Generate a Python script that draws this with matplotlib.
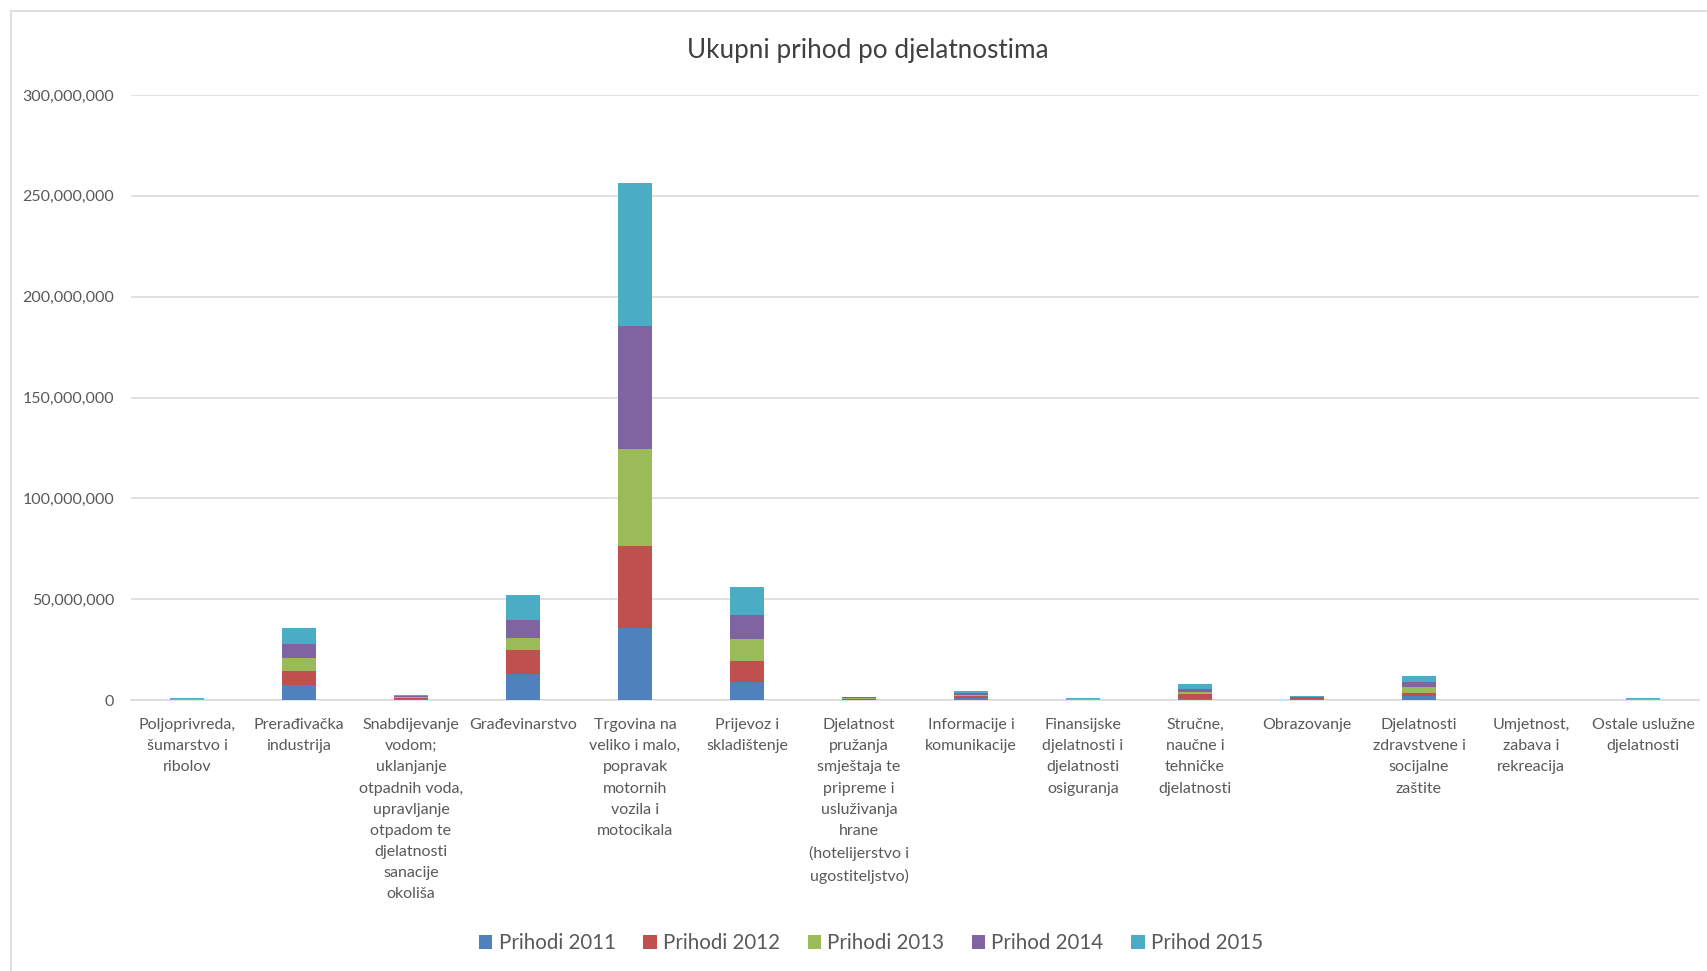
import matplotlib
matplotlib.use("Agg")
from matplotlib import pyplot as plt
from matplotlib.patches import Rectangle
from matplotlib.ticker import FuncFormatter
import numpy as np

plt.rcParams['font.family'] = ['Lato', 'DejaVu Sans']

categories = [
    "Poljoprivreda,\nšumarstvo i\nribolov",
    "Prerađivačka\nindustrija",
    "Snabdijevanje\nvodom;\nuklanjanje\notpadnih voda,\nupravljanje\notpadom te\ndjelatnosti\nsanacije\nokoliša",
    "Građevinarstvo",
    "Trgovina na\nveliko i malo,\npopravak\nmotornih\nvozila i\nmotocikala",
    "Prijevoz i\nskladištenje",
    "Djelatnost\npružanja\nsmještaja te\npripreme i\nusluživanja\nhrane\n(hotelijerstvo i\nugostiteljstvo)",
    "Informacije i\nkomunikacije",
    "Finansijske\ndjelatnosti i\ndjelatnosti\nosiguranja",
    "Stručne,\nnaučne i\ntehničke\ndjelatnosti",
    "Obrazovanje",
    "Djelatnosti\nzdravstvene i\nsocijalne\nzaštite",
    "Umjetnost,\nzabava i\nrekreacija",
    "Ostale uslužne\ndjelatnosti",
]

# values in millions
prihodi_2011 = [0.1, 7.3, 0.4, 12.7, 35.8, 9.0, 0.2, 0.9, 0.1, 0.6, 0.4, 2.0, 0.0, 0.1]
prihodi_2012 = [0.1, 7.2, 0.5, 12.1, 40.7, 10.3, 0.2, 0.9, 0.1, 2.2, 0.4, 1.7, 0.0, 0.1]
prihodi_2013 = [0.1, 6.2, 0.5, 6.0, 48.1, 11.0, 0.7, 0.9, 0.1, 1.2, 0.4, 2.5, 0.0, 0.1]
prihod_2014 = [0.1, 7.3, 0.5, 9.0, 60.8, 12.0, 0.2, 0.9, 0.1, 1.5, 0.4, 2.5, 0.0, 0.1]
prihod_2015 = [0.4, 7.7, 0.4, 12.1, 70.8, 13.6, 0.2, 0.9, 0.5, 2.5, 0.4, 3.3, 0.0, 0.4]

series = [prihodi_2011, prihodi_2012, prihodi_2013, prihod_2014, prihod_2015]
labels = ["Prihodi 2011", "Prihodi 2012", "Prihodi 2013", "Prihod 2014", "Prihod 2015"]
colors = ["#4F81BD", "#C0504D", "#9BBB59", "#8064A2", "#4BACC6"]

fig = plt.figure(figsize=(17.07, 9.71), dpi=100)
fig.patches.append(Rectangle((11/1707, -0.1), 1.2, 1 - 11/971 + 0.1, transform=fig.transFigure,
                             fill=False, edgecolor="#D9D9D9", linewidth=1.2))
ax = fig.add_axes((131/1707, 271/971, 1568/1707, 605/971))

x = np.arange(len(categories))
bottom = np.zeros(len(categories))
handles = []
for vals, lab, col in zip(series, labels, colors):
    v = np.array(vals) * 1e6
    b = ax.bar(x, v, width=0.31, bottom=bottom, color=col, label=lab,
               linewidth=0, zorder=3)
    handles.append(b)
    bottom += v

ax.set_xlim(-0.5, len(categories) - 0.5)
ax.set_ylim(0, 300e6)
ax.set_yticks(np.arange(0, 300e6 + 1, 50e6))
ax.yaxis.set_major_formatter(FuncFormatter(lambda v, p: "{:,.0f}".format(v)))
ax.grid(axis="y", color="#D9D9D9", linewidth=1.1, zorder=0)
for s in ["top", "right", "left"]:
    ax.spines[s].set_visible(False)
ax.spines["bottom"].set_color("#D9D9D9")
ax.spines["bottom"].set_linewidth(1.1)
ax.tick_params(axis="both", length=0, labelsize=11.5, colors="#595959")
ax.tick_params(axis="y", pad=12)
ax.tick_params(axis="x", pad=13)
ax.set_xticks(x)
ax.set_xticklabels(categories, linespacing=1.65, va="top")

fig.text(868/1707, 1 - 50/971, "Ukupni prihod po djelatnostima", ha="center", va="center",
         fontsize=18.8, color="#404040")

fig.legend(handles=handles, labels=labels, loc="center", ncol=5,
           bbox_to_anchor=(871/1707, 1 - 943/971), frameon=False,
           fontsize=14.8, handlelength=0.65, handleheight=0.65, handletextpad=0.3,
           columnspacing=1.35, labelcolor="#595959")

fig.savefig("out.png", dpi=100)
